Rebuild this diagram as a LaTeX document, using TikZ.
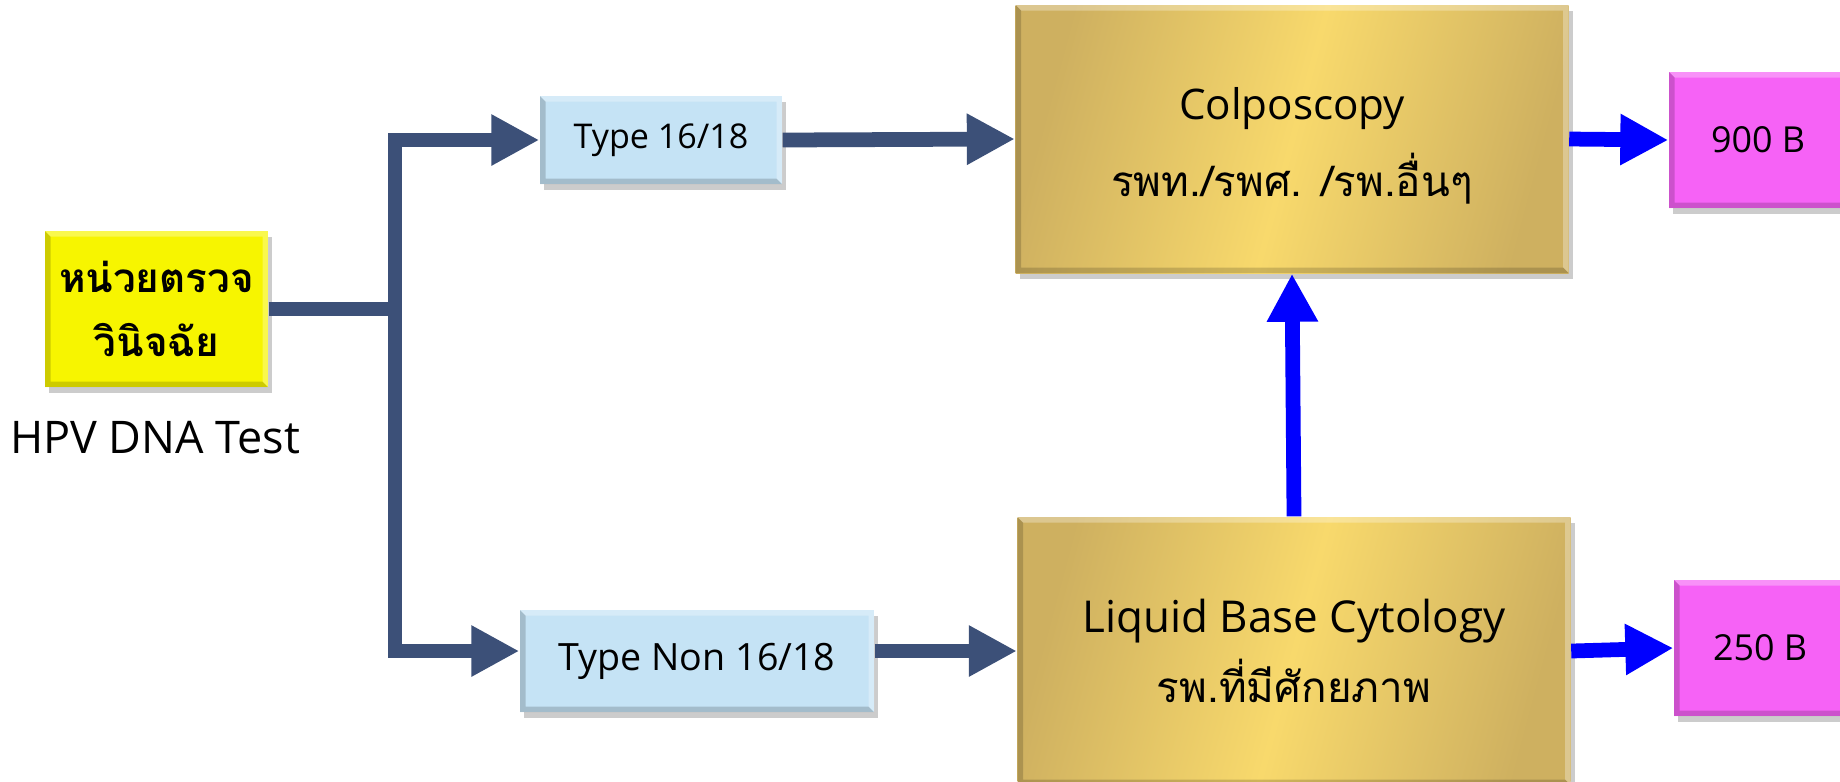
\documentclass[tikz,border=0pt]{standalone}
\usepackage{fontspec}
\setmainfont{Open Sans}
\newfontfamily\thaifont[Script=Thai]{Loma}
\usetikzlibrary{shapes,arrows.meta,shadows}

\definecolor{navyline}{RGB}{60,80,120}
\definecolor{bluearrow}{RGB}{0,0,255}
\definecolor{unityellow}{RGB}{247,245,0}
\definecolor{typeblue}{RGB}{197,227,245}
\definecolor{golddark}{RGB}{206,176,96}
\definecolor{goldlight}{RGB}{248,217,108}
\definecolor{pricepink}{RGB}{246,98,246}

\tikzset{
  bevel/.style={path picture={
    \coordinate (bnw) at (path picture bounding box.north west);
    \coordinate (bne) at (path picture bounding box.north east);
    \coordinate (bse) at (path picture bounding box.south east);
    \coordinate (bsw) at (path picture bounding box.south west);
    \fill[white,opacity=.3] (bnw) -- (bne) -- (bse) -- ([shift={(-0.55mm,0.55mm)}]bse)
      -- ([shift={(-0.55mm,-0.55mm)}]bne) -- ([shift={(0.55mm,-0.55mm)}]bnw) -- cycle;
    \fill[black,opacity=.17] (bnw) -- ([shift={(0.55mm,-0.55mm)}]bnw) -- ([shift={(0.55mm,0.55mm)}]bsw)
      -- ([shift={(-0.55mm,0.55mm)}]bse) -- (bse) -- (bsw) -- cycle;
  }}
}

\begin{document}
\begin{tikzpicture}
\tikzstyle{boxbase}=[rectangle, inner sep=2pt, align=center, drop shadow={shadow xshift=1.2pt, shadow yshift=-1.6pt, opacity=.4}, bevel]
\tikzstyle{unitbox}=[boxbase, fill=unityellow, minimum width=2.23cm, minimum height=1.56cm]
\tikzstyle{typebox}=[boxbase, fill=typeblue]
\tikzstyle{goldbox}=[boxbase, left color=golddark, right color=golddark, middle color=goldlight, shading angle=75, minimum width=5.53cm, minimum height=2.68cm]
\tikzstyle{pricebox}=[boxbase, fill=pricepink, minimum height=1.36cm, font=\fontsize{10.2}{12}\selectfont]
\tikzstyle{navystyle}=[draw=navyline, line width=4.2pt, -{Triangle[length=4.8mm,width=4.8mm]}]
\tikzstyle{bluestyle}=[draw=bluearrow, line width=4.2pt, -{Triangle[length=4.8mm,width=4.8mm]}]

\clip (0,0) rectangle (18.4,-7.81);

\node[unitbox, font=\thaifont\bfseries\fontsize{11.5}{18}\selectfont] (unit) at (1.565,-3.09) {หน่วยตรวจ\\วินิจฉัย};
\node[font=\fontsize{12.8}{14}\selectfont] (hpv) at (1.55,-4.38) {HPV DNA Test};
\node[typebox, minimum width=2.42cm, minimum height=0.88cm, font=\fontsize{9.7}{11}\selectfont] (t16) at (6.61,-1.40) {Type 16/18};
\node[typebox, minimum width=3.54cm, minimum height=1.02cm, font=\fontsize{10.7}{12}\selectfont] (tnon) at (6.97,-6.61) {Type Non 16/18};
\node[goldbox, font=\fontsize{12}{22}\selectfont] (colpo) at (12.92,-1.39) {\rule{0pt}{13pt}Colposcopy\\{\thaifont\fontsize{12}{22}\selectfont รพท./รพศ. /รพ.อื่นๆ}};
\node[goldbox, font=\fontsize{12.5}{20}\selectfont] (lbc) at (12.94,-6.51) {Liquid Base Cytology\\{\thaifont\fontsize{12}{20}\selectfont รพ.ที่มีศักยภาพ}};
\node[pricebox, minimum width=1.78cm] (b900) at (17.58,-1.40) {900 B};
\node[pricebox, minimum width=1.72cm] (b250) at (17.60,-6.48) {250 B};

\coordinate (split) at (3.95,-3.09);
\draw[navyline, line width=4.2pt] (unit.east) -- (split);
\draw[navystyle] (split) |- (t16.west);
\draw[navystyle] (split) |- (tnon.west |- lbc.west);
\draw[navystyle] (t16.east) -- (colpo.west);
\draw[navystyle] (tnon.east |- lbc.west) -- (lbc.west);
\draw[bluestyle] (lbc.north) -- (colpo.south);
\draw[bluestyle] (colpo.east) -- (b900.west);
\draw[bluestyle] (lbc.east) -- (b250.west);
\end{tikzpicture}
\end{document}
